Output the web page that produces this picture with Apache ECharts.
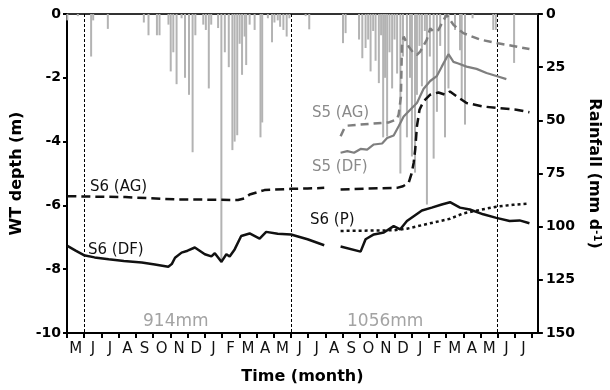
<!DOCTYPE html>
<html><head><meta charset="utf-8">
<script src="https://cdn.jsdelivr.net/npm/echarts@6/dist/echarts.min.js"></script>
<style>html,body{margin:0;padding:0;background:#fff}#c{width:610px;height:390px}</style>
</head><body><div id="c"></div>
<script>
// x values are months since 1 May of year 1
const monthLabels = ['M','J','J','A','S','O','N','D','J','F','M','A','M','J','J','A','S','O','N','D','J','F','M','A','M','J','J'];
const monthTicks = [0,1,2,3,4,5,6,7,8,9,10,11,12,13,14,15,16,17,18,19,20,21,22,23,24,25,26,27];
const wtTicks = [0,-2,-4,-6,-8,-10];
const rainTicks = [0,25,50,75,100,125,150];
const dividers = [1,13,25];

const rainTime = [0.02,0.63,1.40,1.52,2.37,4.46,4.73,5.22,5.37,5.89,6.02,6.17,6.36,6.65,6.85,7.08,7.29,7.45,7.91,8.06,8.23,8.37,8.77,8.96,9.16,9.39,9.60,9.73,9.88,10.02,10.16,10.31,10.40,10.60,10.89,11.23,11.33,11.66,11.90,12.04,12.23,12.37,12.56,12.75,12.91,13.85,14.06,
  16.02,16.17,16.95,17.14,17.33,17.48,17.62,17.77,17.91,18.10,18.23,18.35,18.46,18.58,18.72,18.87,19.01,19.16,19.35,19.50,19.73,19.91,20.02,20.20,20.31,20.46,20.60,20.77,20.89,21.06,21.28,21.47,21.66,21.94,22.14,22.52,22.81,22.91,23.10,23.54,24.74,24.89,25.95];
const rainMm = [3,1,20,3,7,4,10,10,10,5,27,18,33,2,30,38,65,10,5,7.5,35,5,6.6,117,18,25,64,60,57,14,28.6,10.6,24,5,7.5,58,51,2,13.3,4,3,6,7.5,10.6,2,1,7.2,
  13.7,9,12,20.8,16,12,27,8,22,32.5,10,58,30,57.6,18,35,12,28,75,20,58,30,67,74.6,38,15,34,8,89.6,20,68,46,15,58,35,7.5,17,40,52,2,7.5,7.5,23];

const s6agT = [0.02,1.0,3.39,6.27,9.92,10.3,10.6,11.46,13.0,13.96,14.93,15.4,15.88,17.5,19.15,19.5,19.83,20.0,20.12,20.21,20.31,20.46,20.69,21.08,21.56,21.94,22.23,22.62,23.19,24.16,25.02,26.08,26.84];
const s6agWT = [-5.71,-5.72,-5.74,-5.81,-5.83,-5.78,-5.66,-5.52,-5.48,-5.47,-5.45,null,-5.5,-5.47,-5.45,-5.4,-5.29,-5.0,-4.67,-4.25,-3.52,-3.0,-2.74,-2.53,-2.46,-2.53,-2.43,-2.58,-2.79,-2.9,-2.95,-3.0,-3.08];

const s6dfT = [0.02,0.5,0.98,1.6,2.42,3.3,4.34,5.1,5.88,6.08,6.27,6.65,7.0,7.42,8.0,8.38,8.58,8.96,9.25,9.44,9.73,10.11,10.6,11.18,11.56,12.23,13.0,13.96,14.93,15.4,15.88,17.04,17.33,17.81,18.39,18.96,19.34,19.73,20.6,21.17,21.75,22.23,22.81,23.38,24.16,24.92,25.69,26.27,26.84];
const s6dfWT = [-7.27,-7.42,-7.56,-7.63,-7.69,-7.74,-7.79,-7.85,-7.92,-7.84,-7.64,-7.48,-7.42,-7.32,-7.53,-7.6,-7.5,-7.77,-7.53,-7.6,-7.38,-6.96,-6.88,-7.04,-6.83,-6.89,-6.91,-7.06,-7.25,null,-7.29,-7.45,-7.06,-6.91,-6.85,-6.65,-6.75,-6.49,-6.16,-6.07,-5.97,-5.9,-6.07,-6.13,-6.28,-6.39,-6.49,-6.47,-6.56];

const s6pT = [15.88,18.96,19.73,21.08,22.23,23.0,24.16,24.92,25.89,26.84];
const s6pWT = [-6.8,-6.78,-6.73,-6.56,-6.42,-6.25,-6.12,-6.04,-5.98,-5.94];

const s5agT = [15.88,16.08,16.27,17.61,18.68,19.15,19.25,19.38,19.44,19.54,19.83,20.12,20.31,20.5,20.88,21.08,21.27,21.56,21.85,22.04,22.43,23.0,23.96,25.02,25.89,26.84];
const s5agWT = [-3.83,-3.6,-3.5,-3.44,-3.4,-3.3,-3.15,-2.6,-1.0,-0.71,-1.02,-1.23,-1.28,-1.18,-0.81,-0.45,-0.55,-0.5,-0.19,-0.03,-0.34,-0.6,-0.8,-0.92,-1.0,-1.1];

const s5dfT = [15.88,16.27,16.66,17.04,17.42,17.81,18.29,18.58,18.96,19.25,19.54,19.92,20.31,20.69,21.08,21.46,21.75,22.14,22.43,22.71,23.19,23.77,24.35,25.02,25.5];
const s5dfWT = [-4.35,-4.3,-4.35,-4.23,-4.25,-4.09,-4.06,-3.89,-3.81,-3.52,-3.21,-3.0,-2.79,-2.35,-2.1,-1.95,-1.65,-1.26,-1.5,-1.55,-1.65,-1.72,-1.85,-1.96,-2.04];

const pairs = (t, v) => t.map((x, i) => [x, v[i] === null ? '-' : v[i]]);
const FONT = "'DejaVu Sans', 'Liberation Sans', Arial, sans-serif";

const chart = echarts.init(document.getElementById('c'), null, {renderer: 'canvas'});
const lineBase = {type: 'line', symbol: 'none', xAxisIndex: 0, yAxisIndex: 0, connectNulls: false, z: 5, silent: true, animation: false};

chart.setOption({
  animation: false,
  backgroundColor: '#fff',
  grid: {left: 67, right: 68, top: 14, bottom: 56, containLabel: false},
  xAxis: [{
    type: 'value', min: 0, max: 27.33, position: 'bottom',
    name: 'Time (month)', nameLocation: 'middle', nameGap: 36,
    nameTextStyle: {fontFamily: FONT, fontWeight: 'bold', fontSize: 16, color: '#000'},
    axisLine: {show: true, onZero: false, lineStyle: {color: '#000', width: 2}},
    axisTick: {show: true, length: 5, lineStyle: {color: '#000', width: 2}, customValues: monthTicks},
    axisLabel: {customValues: monthTicks.slice(0, 27).map(v => v + 0.5), formatter: v => monthLabels[Math.floor(v)] || '',
      fontFamily: FONT, fontSize: 15, color: '#111', margin: 9},
    splitLine: {show: false}
  }, {
    type: 'value', min: 0, max: 27.33, position: 'top',
    axisLine: {show: true, onZero: false, lineStyle: {color: '#333', width: 2}},
    axisTick: {show: false}, axisLabel: {show: false}, splitLine: {show: false}
  }],
  yAxis: [{
    type: 'value', min: -10, max: 0, interval: 2, position: 'left',
    name: 'WT depth (m)', nameLocation: 'middle', nameGap: 37,
    nameTextStyle: {fontFamily: FONT, fontWeight: 'bold', fontSize: 16, color: '#000'},
    axisLine: {show: true, onZero: false, lineStyle: {color: '#000', width: 2}},
    axisTick: {show: true, length: 4, lineStyle: {color: '#000', width: 2}},
    axisLabel: {fontFamily: FONT, fontWeight: 'bold', fontSize: 14, color: '#000', margin: 6},
    splitLine: {show: false}
  }, {
    type: 'value', min: 0, max: 150, interval: 25, position: 'right', inverse: true,
    name: 'Rainfall (mm d{s|-1})', nameLocation: 'middle', nameGap: 38, nameRotate: -90,
    nameTextStyle: {fontFamily: FONT, fontWeight: 'bold', fontSize: 16, color: '#000',
      rich: {s: {fontFamily: FONT, fontWeight: 'bold', fontSize: 10, verticalAlign: 'top', color: '#000'}}},
    axisLine: {show: true, onZero: false, lineStyle: {color: '#000', width: 2}},
    axisTick: {show: true, length: 5, lineStyle: {color: '#000', width: 2}},
    axisLabel: {fontFamily: FONT, fontWeight: 'bold', fontSize: 14, color: '#000', margin: 8},
    splitLine: {show: false}
  }],
  series: [
    {type: 'bar', name: 'Rainfall', xAxisIndex: 0, yAxisIndex: 1, data: pairs(rainTime, rainMm),
      barWidth: 2, itemStyle: {color: '#b3b3b3'}, z: 2, silent: true, animation: false,
      markLine: {silent: true, symbol: 'none', animation: false, label: {show: false},
        lineStyle: {color: '#000', width: 1, type: [3, 2]},
        data: dividers.map(d => ({xAxis: d}))}},
    Object.assign({}, lineBase, {name: 'S6 (AG)', data: pairs(s6agT, s6agWT),
      lineStyle: {color: '#111', width: 2.5, type: [9, 5]}}),
    Object.assign({}, lineBase, {name: 'S6 (DF)', data: pairs(s6dfT, s6dfWT),
      lineStyle: {color: '#111', width: 2.5}}),
    Object.assign({}, lineBase, {name: 'S6 (P)', data: pairs(s6pT, s6pWT),
      lineStyle: {color: '#111', width: 2.5, type: [3, 3]}}),
    Object.assign({}, lineBase, {name: 'S5 (AG)', data: pairs(s5agT, s5agWT),
      lineStyle: {color: '#7f7f7f', width: 2.5, type: [8, 5]}}),
    Object.assign({}, lineBase, {name: 'S5 (DF)', data: pairs(s5dfT, s5dfWT),
      lineStyle: {color: '#7f7f7f', width: 2.2}})
  ]
});

const notes = [
  {text: 'S6 (AG)', x: 90, y: 187, color: '#111', size: 15},
  {text: 'S6 (DF)', x: 88, y: 250, color: '#111', size: 15},
  {text: 'S5 (AG)', x: 312, y: 113, color: '#8a8a8a', size: 15},
  {text: 'S5 (DF)', x: 312, y: 167, color: '#8a8a8a', size: 15},
  {text: 'S6 (P)', x: 310, y: 220, color: '#111', size: 15},
  {text: '914mm', x: 143, y: 322, color: '#a3a3a3', size: 17},
  {text: '1056mm', x: 347, y: 322, color: '#a3a3a3', size: 17}
];
chart.setOption({graphic: notes.map(n => ({type: 'text', x: n.x, y: n.y, z: 10, silent: true,
  style: {text: n.text, fill: n.color, font: n.size + 'px ' + FONT, textAlign: 'left', textVerticalAlign: 'middle', verticalAlign: 'middle'}}))});
</script></body></html>
